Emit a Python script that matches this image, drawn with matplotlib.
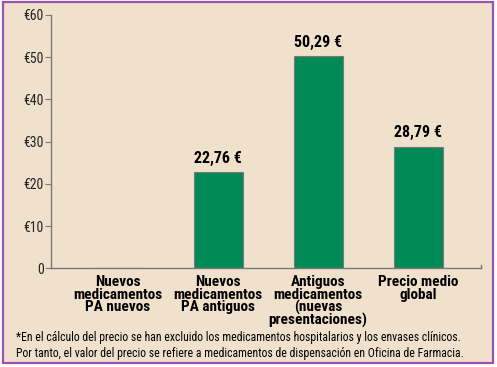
import matplotlib
matplotlib.use("Agg")
import matplotlib.pyplot as plt
from matplotlib.patches import Rectangle
from matplotlib import font_manager as fm
from matplotlib.font_manager import FontProperties

categories = ["Nuevos\nmedicamentos\nPA nuevos",
              "Nuevos\nmedicamentos\nPA antiguos",
              "Antiguos\nmedicamentos\n(nuevas\npresentaciones)",
              "Precio medio\nglobal"]
values = [0, 22.76, 50.29, 28.79]
value_labels = ["", "22,76 €", "50,29 €", "28,79 €"]
yticks = [0, 10, 20, 30, 40, 50, 60]
ytick_labels = ["0", "€10", "€20", "€30", "€40", "€50", "€60"]
footnote = ("*En el cálculo del precio se han excluido los medicamentos hospitalarios y los envases clínicos.\n"
            "Por tanto, el valor del precio se refiere a medicamentos de dispensación en Oficina de Farmacia.")

# find a narrow / condensed font
def is_narrow(f):
    s = (f.name + " " + f.fname).lower()
    return ("narrow" in s or "condensed" in s or
            str(f.stretch) in ("condensed", "semi-condensed", "extra-condensed"))

def wnum(w):
    if isinstance(w, int):
        return w
    return {"bold": 700, "normal": 400, "regular": 400, "medium": 500,
            "semibold": 600, "light": 300, "heavy": 800, "black": 900}.get(str(w), 400)

pref = ["liberation", "roboto", "open", "dejavu", "noto", ""]
narrow = [f for f in fm.fontManager.ttflist if is_narrow(f) and f.style == "normal"]
reg_file = bold_file = None
for p in pref:
    group = [f for f in narrow if p in f.name.lower()]
    regs = [f for f in group if 350 <= wnum(f.weight) <= 500]
    bolds = [f for f in group if wnum(f.weight) >= 600]
    if regs and bolds:
        regs.sort(key=lambda f: abs(wnum(f.weight) - 400))
        reg_file = regs[0].fname
        bolds.sort(key=lambda f: abs(wnum(f.weight) - 700))
        bold_file = bolds[0].fname
        break

if reg_file:
    FP_REG = FontProperties(fname=reg_file)
    FP_BOLD = FontProperties(fname=bold_file)
    scale = 1.0
else:
    FP_REG = FontProperties(family="DejaVu Sans")
    FP_BOLD = FontProperties(family="DejaVu Sans", weight="bold")
    scale = 0.82

def fp(base, size):
    p = base.copy()
    p.set_size(size * scale)
    return p

BG = "#F0E1CC"
GREEN = "#008A56"

fig = plt.figure(figsize=(4.97, 3.67), dpi=100)
fig.patch.set_facecolor("white")
fig.patches.append(Rectangle((3/497, 1 - 363/367), 490/497, 361/367,
                             transform=fig.transFigure, facecolor=BG,
                             edgecolor="#9B52B4", linewidth=1.6, zorder=-5))

ax = fig.add_axes([51/497, 1 - 268.3/367, 430/497, 253.3/367])
ax.set_zorder(2)
ax.set_facecolor("none")
x = list(range(len(categories)))
ax.bar(x, values, width=0.49, color=GREEN, edgecolor="#7a7a7a", linewidth=0.8, zorder=2)
for xi, v, lab in zip(x, values, value_labels):
    if lab:
        ax.text(xi, v + 1.5, lab, ha="center", va="bottom",
                fontproperties=fp(FP_BOLD, 11.5), color="black")

ax.set_ylim(0, 60)
ax.set_xlim(-0.67, 3.63)
ax.set_yticks(yticks)
ax.set_yticklabels(ytick_labels, fontproperties=fp(FP_REG, 10), color="#222222")
ax.tick_params(axis="y", length=4, width=0.8, color="#7a7a7a", pad=1)
ax.set_xticks(x)
ax.set_xticklabels(categories, fontproperties=fp(FP_BOLD, 11), linespacing=0.85)
ax.tick_params(axis="x", length=0, pad=5)
for s in ["top", "right"]:
    ax.spines[s].set_visible(False)
for s in ["left", "bottom"]:
    ax.spines[s].set_color("#7a7a7a")
    ax.spines[s].set_linewidth(1.0)
ax.plot([3.63, 3.63], [0, 0.9], color="#7a7a7a", lw=1.0, clip_on=False)

fig.text(16/497, 1 - 331/367, footnote, fontproperties=fp(FP_REG, 8.5),
         va="top", ha="left", linespacing=1.25, color="black")

fig.savefig("out.png", dpi=100, facecolor=fig.get_facecolor())
